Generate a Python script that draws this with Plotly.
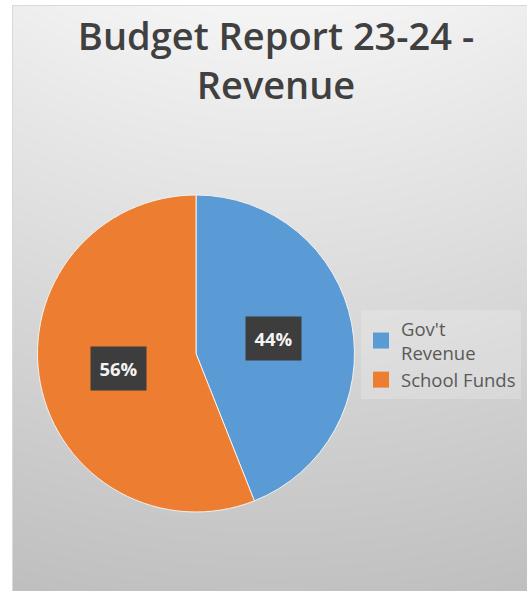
import base64
import struct
import zlib

import numpy as np
import plotly.graph_objects as go

# ---- data ----
labels = ["Gov't<br>Revenue", "School Funds"]
values = [44, 56]
colors = ["#5B9BD5", "#ED7D31"]
title_text = "Budget Report 23-24 -<br>Revenue"

W, H = 527, 591
FX, FY = 12, 5  # chart frame origin (px)

# ---- gradient background image ----
def png_uri(arr):
    h, w, _ = arr.shape
    raw = b"".join(b"\x00" + arr[i].tobytes() for i in range(h))

    def chunk(t, d):
        c = struct.pack(">I", len(d)) + t + d
        return c + struct.pack(">I", zlib.crc32(t + d) & 0xFFFFFFFF)

    png = (b"\x89PNG\r\n\x1a\n"
           + chunk(b"IHDR", struct.pack(">IIBBBBB", w, h, 8, 2, 0, 0, 0))
           + chunk(b"IDAT", zlib.compress(raw, 9))
           + chunk(b"IEND", b""))
    return "data:image/png;base64," + base64.b64encode(png).decode()


gw, gh = W - FX, H - FY
xs = np.arange(gw)[None, :] + FX
ys = np.arange(gh)[:, None] + FY
d = np.hypot(xs - 270.0, ys + 395.0)
t = np.clip((d - 400.0) / (1019.0 - 400.0), 0, 1)
g = (245 - t * (245 - 191)).astype(np.uint8)
img = np.stack([g, g, g], axis=-1)
bg_uri = png_uri(img)

# ---- pie geometry (px) ----
pcx, pcy, pr = 196.0, 353.5, 158.5
dom_x = [(pcx - pr) / W, (pcx + pr) / W]
dom_y = [(H - pcy - pr) / H, (H - pcy + pr) / H]

fig = go.Figure()
fig.add_trace(go.Pie(
    labels=labels, values=values, sort=False, direction="clockwise",
    rotation=0, marker=dict(colors=colors, line=dict(color="#f2f2f2", width=1)),
    textinfo="none", hoverinfo="label+percent", showlegend=False,
    domain=dict(x=dom_x, y=dom_y),
))

# legend-only traces (bigger square swatches)
for lab, col in zip(labels, colors):
    fig.add_trace(go.Scatter(
        x=[None], y=[None], mode="markers", name=lab,
        marker=dict(symbol="square", size=16, color=col),
        showlegend=True, hoverinfo="skip",
    ))

# data labels: boxes at half radius along each slice's mid-angle
total = float(sum(values))
cum = 0.0
annotations = []
for v in values:
    mid = (cum + v / 2.0) / total * 2 * np.pi
    cum += v
    lx = pcx + 0.5 * pr * np.sin(mid)
    ly = pcy - 0.5 * pr * np.cos(mid)
    annotations.append(dict(
        x=lx / W, y=(H - ly) / H, xref="paper", yref="paper",
        text=f"{round(v / total * 100)}%", showarrow=False,
        font=dict(family="Open Sans", size=18.5, color="#f4f4f4", weight=700),
        bgcolor="#3d3d3d", width=45, height=33, borderpad=5,
        xanchor="center", yanchor="middle",
    ))

fig.update_layout(
    width=W, height=H, margin=dict(l=0, r=0, t=0, b=0),
    paper_bgcolor="white", plot_bgcolor="rgba(0,0,0,0)",
    xaxis=dict(visible=False), yaxis=dict(visible=False),
    title=dict(
        text=title_text, x=276 / W, xanchor="center",
        y=1 - 50 / H, yanchor="top", yref="container",
        font=dict(family="Open Sans", size=38, color="#404040", weight=600),
    ),
    legend=dict(
        x=361 / W, y=1 - 310 / H, xanchor="left", yanchor="top",
        bgcolor="rgba(255,255,255,0.2)", itemwidth=30,
        font=dict(family="Open Sans", size=18.5, color="#595959"),
        itemsizing="trace", tracegroupgap=0,
    ),
    images=[dict(
        source=bg_uri, xref="paper", yref="paper",
        x=FX / W, y=1 - FY / H, sizex=gw / W, sizey=gh / H,
        xanchor="left", yanchor="top", sizing="stretch", layer="below",
    )],
    shapes=[dict(
        type="rect", xref="paper", yref="paper",
        x0=(FX + 0.5) / W, x1=1.01, y0=-0.01, y1=1 - (FY + 0.5) / H,
        line=dict(color="#d9d9d9", width=1), fillcolor="rgba(0,0,0,0)",
        layer="below",
    )],
    annotations=annotations,
    showlegend=True,
)

fig.write_html(
    "out.html",
    config={"displayModeBar": False},
    post_script="document.body.style.margin='0';document.body.style.overflow='hidden';",
)
